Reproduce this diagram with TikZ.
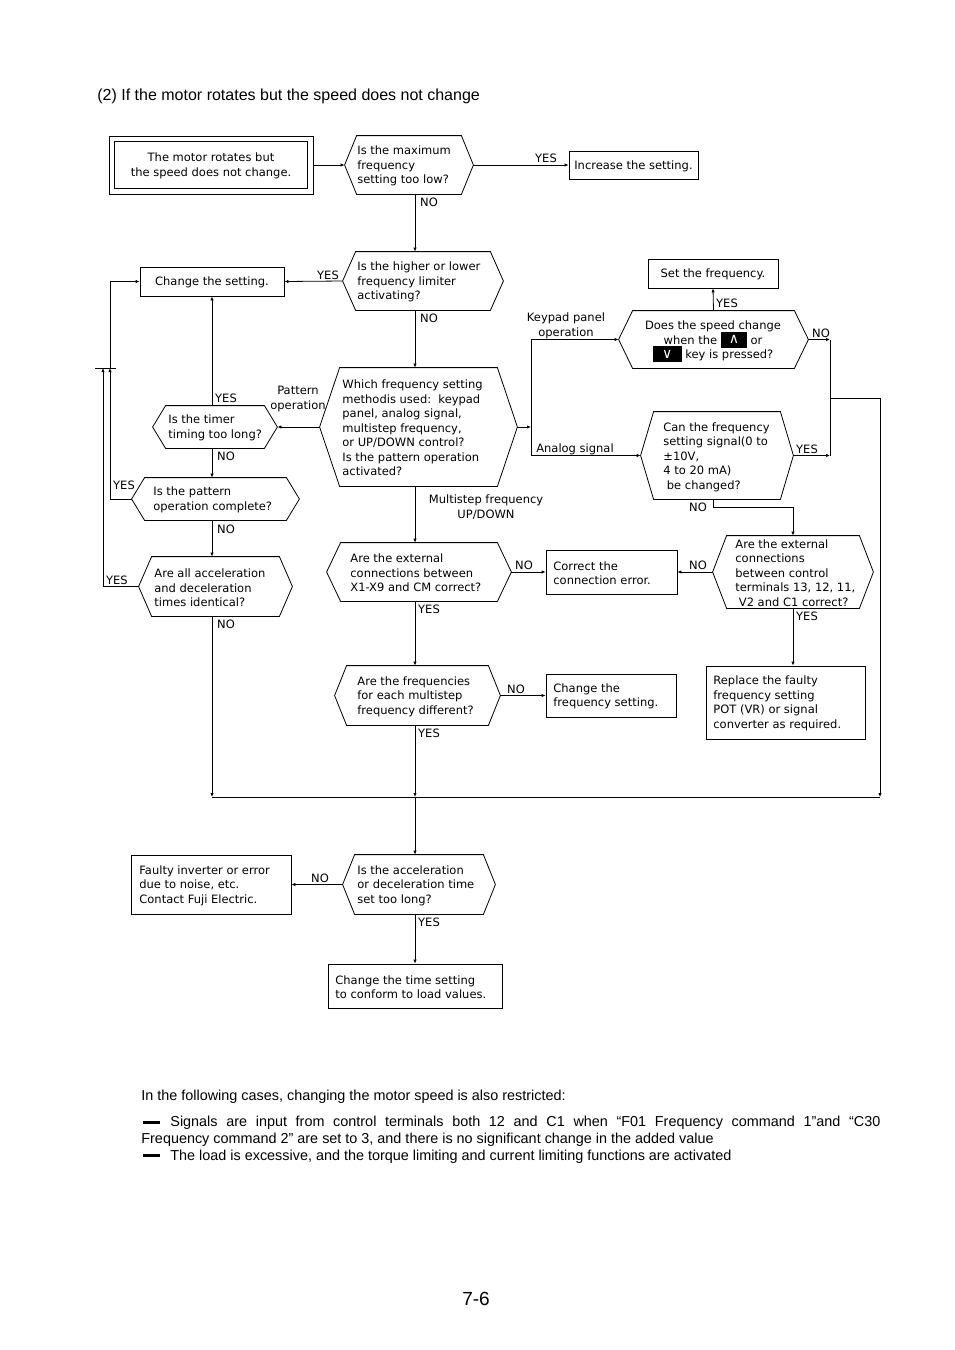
\documentclass[tikz,border=0pt]{standalone}
\usepackage{fontspec}
\setmainfont{Liberation Sans}
\newfontfamily\dv{DejaVu Sans}
\usetikzlibrary{arrows.meta,calc}
\newcommand\hexdraw[2]{\draw (#1.west) -- ([xshift=#2]#1.north west) -- ([xshift=-#2]#1.north east) -- (#1.east) -- ([xshift=-#2]#1.south east) -- ([xshift=#2]#1.south west) -- cycle;}
\newcommand\keyglyph[2]{\smash{\tikz[baseline=(k.base)]\node[fill=black,text=white,minimum width=#2,minimum height=16pt,inner sep=0pt,text depth=0pt,font=\dv\fontsize{14}{14}\selectfont](k){\raisebox{0.5pt}{#1}};}}
\begin{document}
\begin{tikzpicture}[x=1pt,y=-1pt,line width=0.8pt,
  txt/.style={font=\dv\fontsize{11.5}{14.5}\selectfont, inner sep=0pt, align=left, yshift=-1pt},
  ctxt/.style={font=\dv\fontsize{11.5}{14.5}\selectfont, inner sep=0pt, align=center, yshift=-1pt},
  shp/.style={inner sep=0pt, draw=none},
  box/.style={draw, inner sep=0pt},
  arr/.style={-{Latex[length=4pt,width=3.4pt]}}]
\useasboundingbox (0,0) rectangle (954,1350);
\fill[white] (0,0) rectangle (954,1350);

% title
\node[font=\fontsize{16}{19}\selectfont, inner sep=0pt, anchor=west] (title) at (97,96) {(2) If the motor rotates but the speed does not change};

% spine coordinates
\coordinate (spine) at (415,0);

% start box
\node[box, minimum width=204pt, minimum height=58pt] (start) at (211,165) {};
\draw ([shift={(6pt,-6pt)}]start.north west) rectangle ([shift={(-6pt,6pt)}]start.south east);
\node[ctxt] (startt) at (211,165) {The motor rotates but\\the speed does not change.};

% D1
\node[shp, minimum width=128pt, minimum height=58pt] (d1) at (409,165) {};
\hexdraw{d1}{12pt}
\node[txt, anchor=west] (d1t) at (357,165) {Is the maximum\\frequency\\setting too low?};

\node[box, minimum width=129pt, minimum height=28pt] (inc) at (633.5,165) {};
\node[ctxt] (inct) at (633.5,165) {Increase the setting.};

% D2
\node[shp, minimum width=160pt, minimum height=58pt] (d2) at (423,281) {};
\hexdraw{d2}{13pt}
\node[txt, anchor=west] (d2t) at (357,281) {Is the higher or lower\\frequency limiter\\activating?};

\node[box, minimum width=144pt, minimum height=29pt] (chg) at (212,281.5) {};
\node[ctxt] (chgt) at (212,281.5) {Change the setting.};

% D3
\node[shp, minimum width=197pt, minimum height=118pt] (d3) at (418.5,427) {};
\hexdraw{d3}{20pt}
\node[txt, anchor=west] (d3t) at (342,427) {Which frequency setting\\methodis used:\ \ keypad\\panel, analog signal,\\multistep frequency,\\or UP/DOWN control?\\Is the pattern operation\\activated?};

% D4
\node[shp, minimum width=124pt, minimum height=42pt] (d4) at (215,427) {};
\hexdraw{d4}{13pt}
\node[txt, anchor=west] (d4t) at (168,427) {Is the timer\\timing too long?};

% D5
\node[shp, minimum width=167pt, minimum height=42pt] (d5) at (215.5,499) {};
\hexdraw{d5}{13pt}
\node[txt, anchor=west] (d5t) at (153,499) {Is the pattern\\operation complete?};

% D6
\node[shp, minimum width=153pt, minimum height=59pt] (d6) at (215.5,586.5) {};
\hexdraw{d6}{13pt}
\node[txt, anchor=west] (d6t) at (154,587) {Are all acceleration\\and deceleration\\times identical?};

% D7
\node[shp, minimum width=189pt, minimum height=57pt] (d7) at (713.5,339.5) {};
\hexdraw{d7}{14pt}
\node[ctxt] (d7t) at (713,340) {Does the speed change\\when the \keyglyph{∧}{26pt} or\\\keyglyph{∨}{29pt} key is pressed?};

\node[box, minimum width=130pt, minimum height=29pt] (setf) at (713,273.5) {};
\node[ctxt] (setft) at (713,273.5) {Set the frequency.};

% D8
\node[shp, minimum width=152pt, minimum height=87pt] (d8) at (717,455.5) {};
\hexdraw{d8}{13pt}
\node[txt, anchor=west] (d8t) at (663,456) {Can the frequency\\setting signal(0 to\\±10V,\\4 to 20 mA)\\\hspace{3.5pt}be changed?};

% D9
\node[shp, minimum width=160pt, minimum height=72pt] (d9) at (793,572) {};
\hexdraw{d9}{14pt}
\node[txt, anchor=west] (d9t) at (735,572) {Are the external\\connections\\between control\\terminals 13, 12, 11,\\\hspace{3.5pt}V2 and C1 correct?};

% correct box
\node[box, minimum width=131pt, minimum height=44pt] (corr) at (611.5,572) {};
\node[txt, anchor=west] (corrt) at (553,572) {Correct the\\connection error.};

% D10
\node[shp, minimum width=184pt, minimum height=58pt] (d10) at (419,572) {};
\hexdraw{d10}{14pt}
\node[txt, anchor=west] (d10t) at (350,572) {Are the external\\connections between\\X1-X9 and CM correct?};

% D11
\node[shp, minimum width=165pt, minimum height=59pt] (d11) at (417.5,695.5) {};
\hexdraw{d11}{12pt}
\node[txt, anchor=west] (d11t) at (357,695.5) {Are the frequencies\\for each multistep\\frequency different?};

\node[box, minimum width=130pt, minimum height=43pt] (chf) at (611,695.5) {};
\node[txt, anchor=west] (chft) at (553,695.5) {Change the\\frequency setting.};

\node[box, minimum width=159pt, minimum height=73pt] (repl) at (785.5,702.5) {};
\node[txt, anchor=west] (replt) at (713,702.5) {Replace the faulty\\frequency setting\\POT (VR) or signal\\converter as required.};

% D12
\node[shp, minimum width=152pt, minimum height=59pt] (d12) at (419,884.5) {};
\hexdraw{d12}{12pt}
\node[txt, anchor=west] (d12t) at (357,884.5) {Is the acceleration\\or deceleration time\\set too long?};

\node[box, minimum width=160pt, minimum height=59pt] (faulty) at (211,884.5) {};
\node[txt, anchor=west] (faultyt) at (139,884.5) {Faulty inverter or error\\due to noise, etc.\\Contact Fuji Electric.};

\node[box, minimum width=174pt, minimum height=44pt] (chtime) at (415,986) {};
\node[txt, anchor=west] (chtimet) at (335,986) {Change the time setting\\to conform to load values.};

% coordinates
\coordinate (fbA) at (110,368);
\coordinate (fbB) at (103,368);
\coordinate (barL) at (95,368);
\coordinate (barR) at (116,368);
\coordinate (bus) at (531,427);
\coordinate (rbus) at (830,398);
\coordinate (rr) at (880,797);
\coordinate (merge1) at (212,797);
\coordinate (merge2) at (415,797);

% connectors
\draw[arr] (start.east) -- (d1.west);
\draw[arr] (d1.east) -- (inc.west);
\draw[arr] (d1.south -| spine) -- (d2.north -| spine);
\draw[arr] (d2.west) -- (chg.east);
\draw[arr] (d2.south -| spine) -- (d3.north -| spine);
\draw[arr] (d3.west) -- (d4.east);
\draw[arr] (d4.north -| chg) -- (chg.south);
\draw[arr] (d4.south -| chg) -- (d5.north -| chg);
\draw[arr] (d5.south -| chg) -- (d6.north -| chg);
\draw[arr] (d6.south -| chg) -- (merge1);
\draw[arr] (d5.west) -| (fbA);
\draw[arr] (d6.west) -| (fbB);
\draw (barL) -- (barR);
\draw[arr] (fbA) |- (chg.west);

\draw[arr] (d3.east) -- (bus);
\draw (bus |- d7.west) -- (bus |- d8.west);
\draw[arr] (bus |- d7.west) -- (d7.west);
\draw[arr] (bus |- d8.west) -- (d8.west);
\draw[arr] (d7.north) -- (setf.south);
\draw[arr] (d7.east) -- (d7.east -| rbus);
\draw[arr] (d8.east) -- (d8.east -| rbus);
\draw (d7.east -| rbus) -- (d8.east -| rbus);
\draw[arr] (rbus) -| (rr);
\draw[arr] ([xshift=-4pt]d8.south) -- ++(0,8) -| (d9.north);
\draw[arr] (d9.west) -- (corr.east);
\draw[arr] (d10.east) -- (corr.west);
\draw[arr] (d9.south) -- (d9.south |- repl.north);
\draw[arr] (d3.south -| spine) -- (d10.north -| spine);
\draw[arr] (d10.south -| spine) -- (d11.north -| spine);
\draw[arr] (d11.east) -- (chf.west);
\draw[arr] (d11.south -| spine) -- (merge2);
\draw[arr] (merge2) -- (d12.north -| spine);
\draw (merge1) -- (rr);
\draw[arr] (d12.west) -- (faulty.east);
\draw[arr] (d12.south -| spine) -- (chtime.north);

% labels
\node[ctxt] (l1) at (429,201) {NO};
\node[ctxt] (l2) at (546,157) {YES};
\node[ctxt] (l3) at (328,274) {YES};
\node[ctxt] (l4) at (429,317) {NO};
\node[ctxt] (l5) at (298,398) {Pattern\\operation};
\node[ctxt] (l6) at (226,397) {YES};
\node[ctxt] (l7) at (226,455) {NO};
\node[ctxt] (l8) at (124,484) {YES};
\node[ctxt] (l9) at (226,528) {NO};
\node[ctxt] (l10) at (117,579) {YES};
\node[ctxt] (l11) at (226,623) {NO};
\node[ctxt] (l12) at (566,325) {Keypad panel\\operation};
\node[ctxt] (l13) at (575,448) {Analog signal};
\node[ctxt] (l14) at (727,302) {YES};
\node[ctxt] (l15) at (821,332) {NO};
\node[ctxt] (l16) at (807,448) {YES};
\node[ctxt] (l17) at (698,506) {NO};
\node[ctxt] (l18) at (486,506) {Multistep frequency\\UP/DOWN};
\node[ctxt] (l19) at (524,564) {NO};
\node[ctxt] (l20) at (429,608) {YES};
\node[ctxt] (l21) at (698,564) {NO};
\node[ctxt] (l22) at (807,615) {YES};
\node[ctxt] (l23) at (516,688) {NO};
\node[ctxt] (l24) at (429,732) {YES};
\node[ctxt] (l25) at (320,877) {NO};
\node[ctxt] (l26) at (429,921) {YES};

% bottom text
\node[font=\fontsize{14.4}{17}\selectfont, inner sep=0pt, anchor=west] (b1) at (141,1097) {In the following cases, changing the motor speed is also restricted:};
\fill (143,1120.5) rectangle (160,1123.5);
\node[font=\fontsize{14.4}{17}\selectfont, inner sep=0pt, anchor=west] (b2) at (170,1123) {\makebox[710pt][s]{Signals are input from control terminals both 12 and C1 when “F01 Frequency command 1”and “C30}};
\node[font=\fontsize{14.4}{17}\selectfont, inner sep=0pt, anchor=west] (b3) at (141,1140) {Frequency command 2” are set to 3, and there is no significant change in the added value};
\fill (143,1153.5) rectangle (160,1156.5);
\node[font=\fontsize{14.4}{17}\selectfont, inner sep=0pt, anchor=west] (b4) at (170,1157) {The load is excessive, and the torque limiting and current limiting functions are activated};

\node[font=\fontsize{19}{22}\selectfont, inner sep=0pt] (pg) at (476,1299) {7-6};
\end{tikzpicture}
\end{document}
